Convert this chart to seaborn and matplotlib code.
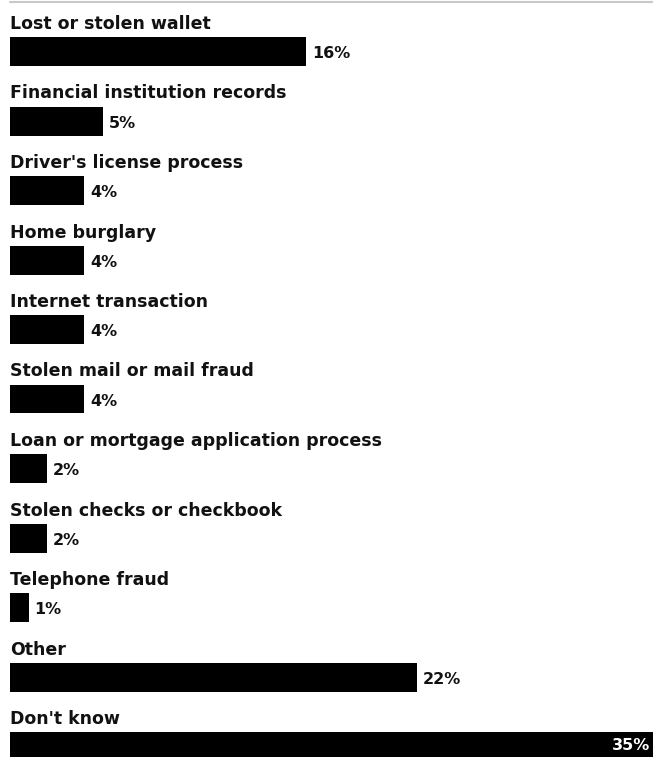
import matplotlib
matplotlib.use("Agg")
import matplotlib.pyplot as plt
from matplotlib.lines import Line2D
import seaborn as sns
import pandas as pd

categories = [
    "Lost or stolen wallet",
    "Financial institution records",
    "Driver's license process",
    "Home burglary",
    "Internet transaction",
    "Stolen mail or mail fraud",
    "Loan or mortgage application process",
    "Stolen checks or checkbook",
    "Telephone fraud",
    "Other",
    "Don't know",
]
values = [16, 5, 4, 4, 4, 4, 2, 2, 1, 22, 35]
value_labels = ["16%", "5%", "4%", "4%", "4%", "4%", "2%", "2%", "1%", "22%", "35%"]

df = pd.DataFrame({"category": categories, "value": values})

sns.set_theme(style="white")
plt.rcParams["font.family"] = ["DejaVu Sans"]

W, H = 653, 757
fig = plt.figure(figsize=(W / 100, H / 100), dpi=100)
ax = fig.add_axes([0, 0, 1, 1])

px_per_unit = 18.5
row = 69.5
bar_h_px = 29
left_px = 10
first_center = 51.5

bw = bar_h_px / row
sns.barplot(data=df, y="category", x="value", color="black", width=bw,
            orient="h", ax=ax, saturation=1, linewidth=0)

ax.set_xlim(-left_px / px_per_unit, (W - left_px) / px_per_unit)
ax.set_ylim((H - first_center) / row, -first_center / row)
ax.axis("off")

for i, (cat, v, lab) in enumerate(zip(categories, values, value_labels)):
    top = i - bw / 2
    ax.text(0, top - 8 / row, cat, fontsize=12.5, fontweight="bold",
            va="baseline", ha="left", color="#111111")
    if v >= 30:
        ax.text((W - left_px - 3) / px_per_unit, i - 0.02, lab, fontsize=11.5,
                fontweight="bold", va="center", ha="right", color="white")
    else:
        ax.text(v + 6 / px_per_unit, i + 0.03, lab, fontsize=11.5,
                fontweight="bold", va="center", ha="left", color="#111111")

fig.add_artist(Line2D([left_px / W, 1], [1 - 2 / H, 1 - 2 / H],
                      color="#c8c8c8", linewidth=1.5))

fig.savefig("out.png", dpi=100)
